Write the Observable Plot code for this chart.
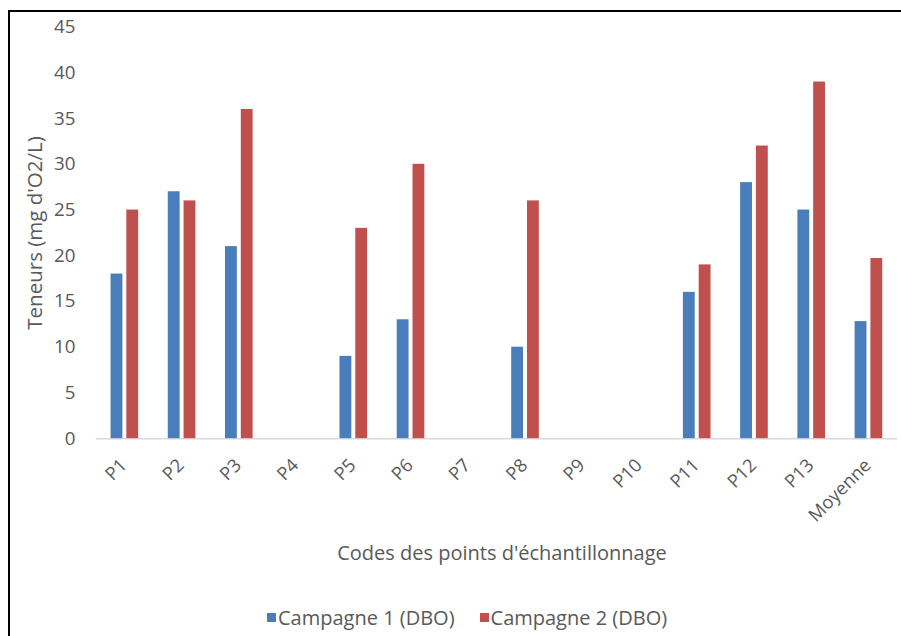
<!DOCTYPE html>
<html>
<head>
<meta charset="utf-8">
<script src="https://cdn.jsdelivr.net/npm/d3@7"></script>
<script src="https://cdn.jsdelivr.net/npm/@observablehq/plot@0.6"></script>
<style>
  html, body { margin: 0; padding: 0; background: #fff; overflow: hidden; }
  body { width: 901px; height: 636px; position: relative; font-family: "Open Sans", sans-serif; }
  #frame { position: absolute; left: 8px; top: 10px; width: 900px; height: 640px;
           border-top: 2px solid #000; border-left: 2px solid #000; box-sizing: border-box; }
  #chart { position: absolute; left: 0; top: 0; width: 901px; height: 545px; overflow: hidden; }
  #ylabel { position: absolute; left: 34px; top: 233px; transform: translate(-50%, -50%) rotate(-90deg);
            white-space: nowrap; font-size: 20.5px; color: #595959; }
  #xlabel { position: absolute; left: 502px; top: 552px; transform: translate(-50%, -50%);
            white-space: nowrap; font-size: 20px; color: #595959; }
  #legend { position: absolute; left: 267px; top: 604px; display: flex; align-items: center;
            white-space: nowrap; font-size: 20px; color: #595959; }
  .sw { display: inline-block; width: 9px; height: 9px; margin-right: 2px; }
  .item { display: flex; align-items: center; margin-right: 25px; }
</style>
</head>
<body>
<div id="frame"></div>
<div id="chart"></div>
<div id="ylabel">Teneurs (mg d'O2/L)</div>
<div id="xlabel">Codes des points d'échantillonnage</div>
<div id="legend"></div>
<script>
const categories = ["P1","P2","P3","P4","P5","P6","P7","P8","P9","P10","P11","P12","P13","Moyenne"];
const campagne1 = [18, 27, 21, null, 9, 13, null, 10, null, null, 16, 28, 25, 12.8];
const campagne2 = [25, 26, 36, null, 23, 30, null, 26, null, null, 19, 32, 39, 19.7];
const seriesNames = ["Campagne 1 (DBO)", "Campagne 2 (DBO)"];
const seriesColors = ["#4a7ebb", "#c0504d"];
const yTicks = [0, 5, 10, 15, 20, 25, 30, 35, 40, 45];

const rows = [];
categories.forEach((c, i) => {
  rows.push({cat: c, series: seriesNames[0], value: campagne1[i]});
  rows.push({cat: c, series: seriesNames[1], value: campagne2[i]});
});

const plot = Plot.plot({
  width: 913,
  height: 539,
  marginLeft: 92,
  marginRight: 0,
  marginTop: 27,
  marginBottom: 95,
  style: { fontFamily: "Open Sans, sans-serif", fontSize: "15px", color: "#595959", background: "transparent" },
  fx: { domain: categories, paddingInner: 0, paddingOuter: 0, label: null },
  x: { domain: seriesNames, paddingInner: 0.235, paddingOuter: 0.844, axis: null },
  y: { domain: [0, 45], label: null },
  color: { domain: seriesNames, range: seriesColors },
  marks: [
    Plot.ruleY([0], { stroke: "#d9d9d9", strokeWidth: 1.5 }),
    Plot.barY(rows, { fx: "cat", x: "series", y: "value", fill: "series" }),
    Plot.axisY({ ticks: yTicks, tickSize: 0, tickPadding: 21, fontSize: 19, fill: "#595959", label: null }),
    Plot.axisFx({ anchor: "bottom", tickRotate: -45, tickSize: 0, tickPadding: 24, dx: -1, fontSize: 18.5, fill: "#595959", label: null })
  ]
});
document.getElementById("chart").appendChild(plot);

const legend = document.getElementById("legend");
seriesNames.forEach((s, i) => {
  const item = document.createElement("span");
  item.className = "item";
  const sw = document.createElement("span");
  sw.className = "sw";
  sw.style.background = seriesColors[i];
  item.appendChild(sw);
  item.appendChild(document.createTextNode(s));
  legend.appendChild(item);
});
</script>
</body>
</html>
